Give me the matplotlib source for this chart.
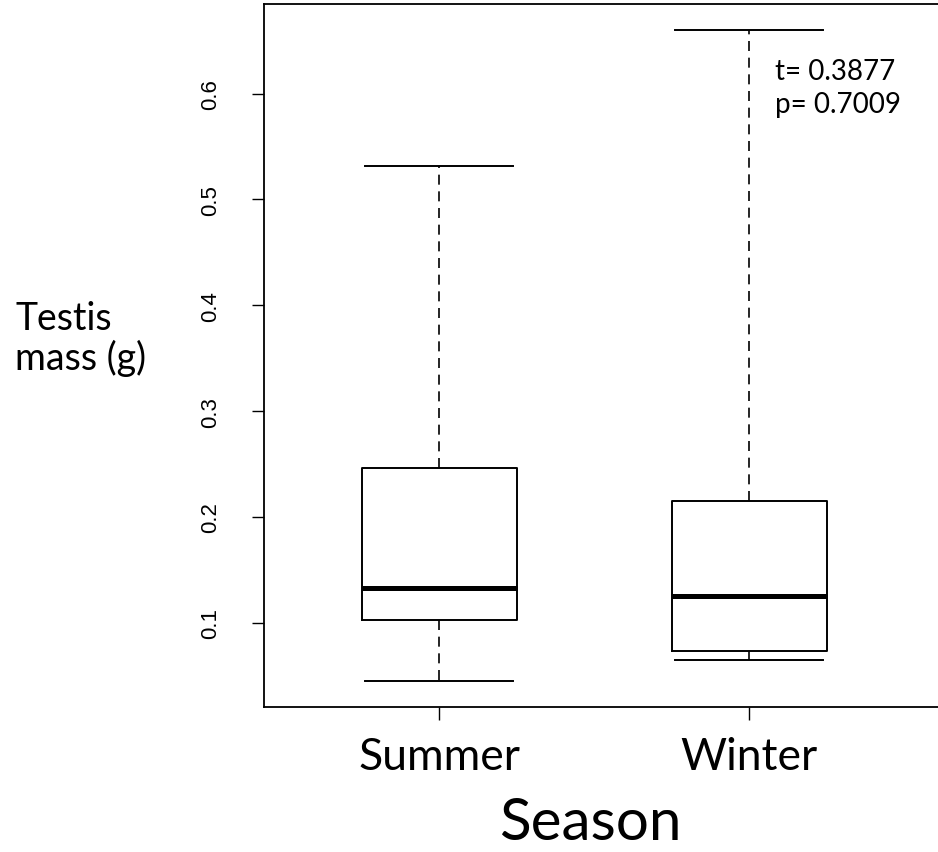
import matplotlib
matplotlib.use("Agg")
import matplotlib.pyplot as plt

# box summaries (testis mass, g)
seasons = ["Summer", "Winter"]
whisker_low = [0.045, 0.065]
q1 = [0.103, 0.073]
medians = [0.133, 0.125]
q3 = [0.246, 0.215]
whisker_high = [0.532, 0.660]

y_ticks = [0.1, 0.2, 0.3, 0.4, 0.5, 0.6]
t_stat = "0.3877"
p_value = "0.7009"

LABEL_FONT = ["Lato", "DejaVu Sans"]

stats = []
for i, name in enumerate(seasons):
    stats.append({"label": name, "whislo": whisker_low[i], "q1": q1[i], "med": medians[i],
                  "q3": q3[i], "whishi": whisker_high[i], "fliers": []})

fig = plt.figure(figsize=(9.38, 8.53), dpi=100)
ax = fig.add_axes([264 / 938, 1 - 708 / 853, (941 - 264) / 938, (708 - 5) / 853])

ax.bxp(stats, positions=[1, 2], widths=0.5, capwidths=0.48, showfliers=False,
       boxprops=dict(color="black", linewidth=1.4),
       medianprops=dict(color="black", linewidth=3.6, solid_capstyle="butt"),
       whiskerprops=dict(color="black", linewidth=1.2, linestyle=(0, (6, 4))),
       capprops=dict(color="black", linewidth=1.4))

ax.set_xlim(0.435, 1 + (941 - 439) / 310)
ax.set_ylim(0.0204, 0.6846)

ax.set_yticks(y_ticks)
ax.set_yticklabels([str(v) for v in y_ticks], rotation=90, va="center",
                   fontsize=16, family="Liberation Sans")
ax.tick_params(axis="y", length=9, width=1, pad=22)
ax.set_xticks([1, 2])
ax.set_xticklabels(seasons, fontsize=32, family=LABEL_FONT)
ax.tick_params(axis="x", length=9, width=1, pad=12)

for side in ["top", "bottom", "left", "right"]:
    ax.spines[side].set_linewidth(1.3)

# axis titles were set as free text in the original
fig.text(15 / 938, 1 - 330 / 853, "Testis", fontsize=27, family=LABEL_FONT,
         ha="left", va="baseline")
fig.text(15 / 938, 1 - 370 / 853, "mass (g)", fontsize=27, family=LABEL_FONT,
         ha="left", va="baseline")
fig.text(590 / 938, 1 - 840 / 853, "Season", fontsize=42, family=LABEL_FONT,
         ha="center", va="baseline")

fig.text(775 / 938, 1 - 80 / 853, "t= " + t_stat, fontsize=20, family=LABEL_FONT,
         ha="left", va="baseline")
fig.text(775 / 938, 1 - 113 / 853, "p= " + p_value, fontsize=20, family=LABEL_FONT,
         ha="left", va="baseline")

fig.savefig("out.png", dpi=100)
